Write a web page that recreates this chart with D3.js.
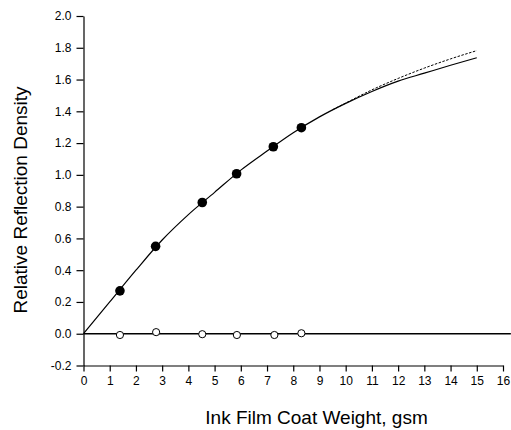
<!DOCTYPE html>
<html>
<head>
<meta charset="utf-8">
<script src="https://cdn.jsdelivr.net/npm/d3@7"></script>
<style>
  body { margin: 0; background: #fff; }
  svg { font-family: "Liberation Sans", Arial, sans-serif; }
  .axis path, .axis line { stroke: #000; stroke-width: 1.2; }
  .axis text { font-size: 12px; fill: #000; }
</style>
</head>
<body>
<div id="chart"></div>
<script>
// measured points (filled = density, open = reference)
const coatWeight = [1.39, 2.75, 4.53, 5.84, 7.24, 8.31];
const density = [0.27, 0.55, 0.826, 1.007, 1.177, 1.297];
const openWeight = [1.39, 2.77, 4.53, 5.85, 7.28, 8.31];
const openDensity = [-0.008, 0.01, -0.003, -0.008, -0.008, 0.003];

// fitted curves
const solidX = [0, 1, 2, 3, 4, 5, 6, 7, 8, 9, 10, 11, 12, 13, 14, 15];
const solidY = [0, 0.20, 0.40, 0.59, 0.75, 0.89, 1.03, 1.15, 1.265, 1.365, 1.45, 1.525, 1.59, 1.64, 1.69, 1.737];
const dashX = [9.5, 10, 11, 12, 13, 14, 15];
const dashY = [1.41, 1.452, 1.535, 1.607, 1.672, 1.73, 1.782];
const zeroX = [0, 16.3];
const zeroY = [0, 0];

const xTicks = d3.range(0, 17, 1);
const yTicks = [-0.2, 0, 0.2, 0.4, 0.6, 0.8, 1.0, 1.2, 1.4, 1.6, 1.8, 2.0];

const margin = {left: 83.5, top: 16, right: 8, bottom: 64.5};
const width = 511, height = 430;

const svg = d3.select('#chart').append('svg')
	.attr('width', width)
	.attr('height', height);

const xScale = d3.scaleLinear()
	.domain([0, 16])
	.range([margin.left, 503]);

const yScale = d3.scaleLinear()
	.domain([-0.2, 2.0])
	.range([365.5, margin.top]);

// axes
svg.append('g')
	.attr('class', 'axis x-axis')
	.attr('transform', `translate(0, ${yScale(-0.2)})`)
	.call(d3.axisBottom(xScale).tickValues(xTicks).tickSize(6).tickSizeOuter(0).tickPadding(5).tickFormat(d3.format('d')));

svg.append('g')
	.attr('class', 'axis y-axis')
	.attr('transform', `translate(${xScale(0)}, 0)`)
	.call(d3.axisLeft(yScale).tickValues(yTicks).tickSize(7).tickSizeOuter(0).tickPadding(5)
		.tickFormat(d => d3.format('.1f')(d).replace('\u2212', '-')));

svg.selectAll('.axis .domain').attr('stroke-width', 1.4);

// curves
const line = d3.line()
	.x(d => xScale(d[0]))
	.y(d => yScale(d[1]))
	.curve(d3.curveMonotoneX);

svg.append('path')
	.datum(zeroX.map((x, i) => [x, zeroY[i]]))
	.attr('d', line)
	.attr('fill', 'none')
	.attr('stroke', '#000')
	.attr('stroke-width', 1.4);

svg.append('path')
	.datum(dashX.map((x, i) => [x, dashY[i]]))
	.attr('d', line)
	.attr('fill', 'none')
	.attr('stroke', '#000')
	.attr('stroke-width', 1)
	.attr('stroke-dasharray', '2.5,1.5');

svg.append('path')
	.datum(solidX.map((x, i) => [x, solidY[i]]))
	.attr('d', line)
	.attr('fill', 'none')
	.attr('stroke', '#000')
	.attr('stroke-width', 1.2);

// points
svg.selectAll('circle.filled')
	.data(coatWeight.map((x, i) => [x, density[i]]))
	.enter()
  .append('circle')
	.attr('class', 'filled')
	.attr('cx', d => xScale(d[0]))
	.attr('cy', d => yScale(d[1]))
	.attr('r', 4.8)
	.attr('fill', '#000');

svg.selectAll('circle.open')
	.data(openWeight.map((x, i) => [x, openDensity[i]]))
	.enter()
  .append('circle')
	.attr('class', 'open')
	.attr('cx', d => xScale(d[0]))
	.attr('cy', d => yScale(d[1]))
	.attr('r', 3.6)
	.attr('fill', '#fff')
	.attr('stroke', '#000')
	.attr('stroke-width', 1);

// titles
svg.append('text')
	.attr('x', 316.5)
	.attr('y', 424)
	.attr('text-anchor', 'middle')
	.style('font-size', '19px')
	.text('Ink Film Coat Weight, gsm');

svg.append('text')
	.attr('transform', 'translate(27, 200) rotate(-90)')
	.attr('text-anchor', 'middle')
	.style('font-size', '19px')
	.text('Relative Reflection Density');
</script>
</body>
</html>
